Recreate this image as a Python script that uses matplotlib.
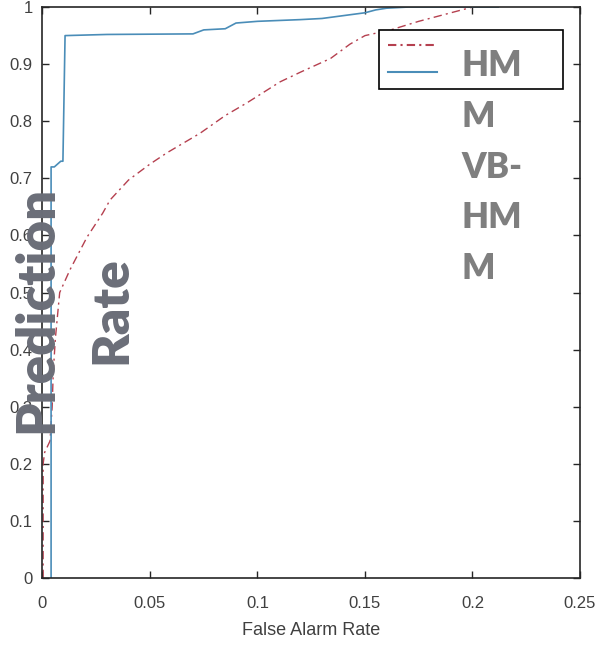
import matplotlib.pyplot as plt
from matplotlib.lines import Line2D

# ROC-style curves
fa_hmm = [0.0003, 0.0003, 0.001, 0.0035, 0.0045, 0.005, 0.006, 0.008, 0.0128,
          0.0207, 0.028, 0.0314, 0.04, 0.05, 0.058, 0.0733, 0.085, 0.095,
          0.1105, 0.12, 0.134, 0.143, 0.15, 0.162, 0.175, 0.19, 0.2]
pr_hmm = [0.0, 0.2, 0.22, 0.24, 0.30, 0.36, 0.42, 0.50, 0.54,
          0.597, 0.639, 0.662, 0.697, 0.725, 0.745, 0.779, 0.81, 0.832,
          0.869, 0.886, 0.91, 0.935, 0.95, 0.96, 0.975, 0.99, 1.0]

fa_vb = [0.004, 0.004, 0.0055, 0.0085, 0.0095, 0.0105, 0.03, 0.07, 0.075,
         0.085, 0.09, 0.1, 0.12, 0.13, 0.14, 0.15, 0.155, 0.16, 0.17, 0.212]
pr_vb = [0.0, 0.72, 0.72, 0.73, 0.73, 0.95, 0.952, 0.953, 0.96,
         0.962, 0.972, 0.975, 0.978, 0.98, 0.985, 0.99, 0.995, 0.998, 1.0, 1.0]

xticks = [0, 0.05, 0.1, 0.15, 0.2, 0.25]
xtick_labels = ["0", "0.05", "0.1", "0.15", "0.2", "0.25"]
yticks = [0, 0.1, 0.2, 0.3, 0.4, 0.5, 0.6, 0.7, 0.8, 0.9, 1]
ytick_labels = ["0", "0.1", "0.2", "0.3", "0.4", "0.5", "0.6", "0.7", "0.8", "0.9", "1"]

red = "#b5404f"
blue = "#4a8db8"
gray_txt = "#7f7f7f"

plt.rcParams["font.family"] = ["Liberation Sans", "DejaVu Sans"]

fig = plt.figure(figsize=(6.07, 6.47), dpi=100)
ax = fig.add_axes([0.070, 0.1066, 0.8855, 0.8825])

ax.plot(fa_hmm, pr_hmm, color=red, lw=1.0, linestyle=(0, (6, 3, 1.5, 3)))
ax.plot(fa_vb, pr_vb, color=blue, lw=1.2)

ax.set_xlim(0, 0.25)
ax.set_ylim(0, 1)
ax.set_xticks(xticks, xtick_labels)
ax.set_yticks(yticks, ytick_labels)
ax.tick_params(direction="in", length=5, width=1, top=True, right=True,
               labelsize=12, labelcolor="#404040", color="#262626", pad=7)
ax.tick_params(axis="x", pad=13)
for s in ax.spines.values():
    s.set_color("#262626")
    s.set_linewidth(1.2)

ax.set_xlabel("False Alarm Rate", fontsize=13, color="#404040", labelpad=8)

handles = [Line2D([], [], color=red, lw=1.5, linestyle=(0, (4, 2, 1, 2))),
           Line2D([], [], color=blue, lw=1.5)]
leg = ax.legend(handles, [" ", " "], loc="upper left",
                bbox_to_anchor=(0.626, 0.849, 0.342, 0.111), mode="expand",
                borderaxespad=0, fontsize=10, handlelength=3.5,
                labelspacing=0.94, borderpad=0.65, fancybox=False,
                framealpha=1, edgecolor="black")
leg.get_frame().set_linewidth(1.2)

# legend labels and y label, drawn large and wrapped as in the source
fig.text(461 / 607, 1 - 49 / 647, "HM\nM\nVB-\nHM\nM", fontsize=25,
         fontweight="heavy", color=gray_txt, family="Lato",
         ha="left", va="top", linespacing=1.66)
fig.text(37 / 607, 1 - 309 / 647, "Prediction", rotation=90, fontsize=38,
         fontweight="heavy", color="#6b6e78", family="Lato",
         ha="center", va="center")
fig.text(111 / 607, 1 - 310 / 647, "Rate", rotation=90, fontsize=37,
         fontweight="heavy", color="#6b6e78", family="Lato",
         ha="center", va="center")

fig.savefig("out.png", dpi=100)
